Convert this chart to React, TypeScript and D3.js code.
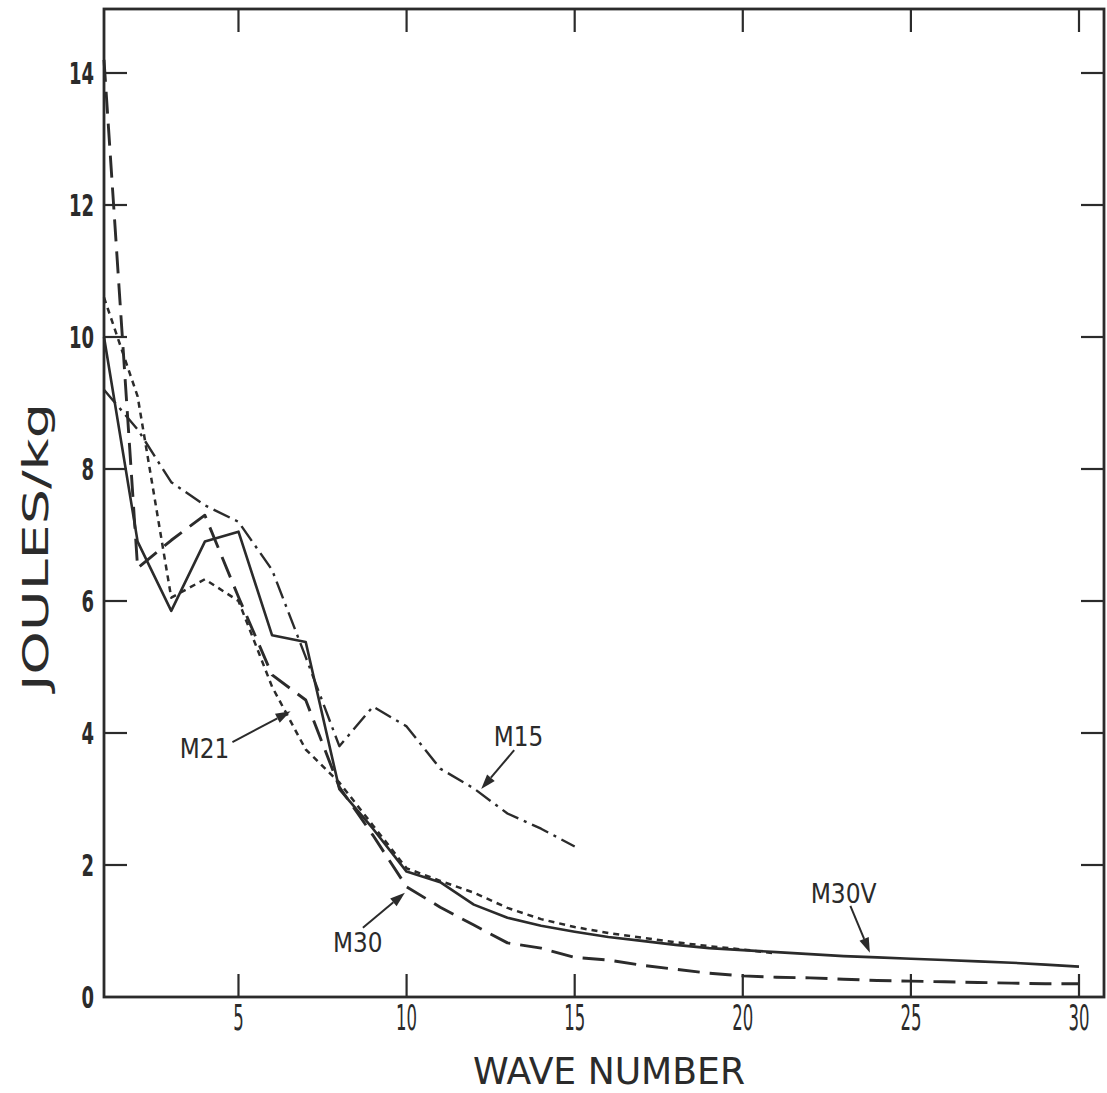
import React, { useEffect, useRef } from "react";
import * as d3 from "d3";

type Pt = [number, number];

// Wave number vs kinetic energy (J/kg)
const M30V: Pt[] = [[1,10.0],[2,6.9],[3,5.85],[4,6.9],[5,7.05],[6,5.48],[7,5.38],[8,3.15],[9,2.55],[10,1.9],[11,1.74],[12,1.4],[13,1.2],[14,1.08],[15,0.99],[16,0.91],[17,0.85],[18,0.79],[19,0.74],[20,0.71],[21,0.68],[22,0.65],[23,0.62],[24,0.6],[25,0.58],[26,0.56],[27,0.54],[28,0.52],[29,0.49],[30,0.46]];
const M30: Pt[] = [[1,14.2],[2,6.5],[3,6.92],[4,7.3],[5,6.06],[6,4.88],[7,4.5],[8,3.18],[9,2.45],[10,1.67],[11,1.36],[12,1.09],[13,0.82],[14,0.74],[15,0.6],[16,0.56],[17,0.48],[18,0.42],[19,0.36],[20,0.32],[21,0.3],[22,0.29],[23,0.27],[24,0.25],[25,0.24],[26,0.23],[27,0.22],[28,0.21],[29,0.2],[30,0.2]];
const M21: Pt[] = [[1,10.6],[2,9.1],[3,6.05],[4,6.33],[5,6.0],[6,4.7],[7,3.75],[8,3.25],[9,2.6],[10,1.95],[11,1.76],[12,1.58],[13,1.35],[14,1.18],[15,1.06],[16,0.97],[17,0.9],[18,0.83],[19,0.77],[20,0.72],[21,0.66]];
const M15: Pt[] = [[1,9.2],[2,8.6],[3,7.8],[4,7.45],[5,7.2],[6,6.47],[7,5.15],[8,3.8],[9,4.4],[10,4.1],[11,3.46],[12,3.16],[13,2.78],[14,2.55],[15,2.28]];

const xTicks = [5, 10, 15, 20, 25, 30];
const yTicks = [0, 2, 4, 6, 8, 10, 12, 14];

// label, text position (wave, value), arrow from, arrow to
const labels = ["M21", "M15", "M30", "M30V"];
const labelPos: Pt[] = [[3.99, 3.77], [13.33, 3.95], [8.55, 0.83], [23.0, 1.58]];
const arrowFrom: Pt[] = [[4.82, 3.86], [13.2, 3.74], [8.7, 1.05], [23.2, 1.38]];
const arrowTo: Pt[] = [[6.55, 4.33], [12.22, 3.15], [9.95, 1.58], [23.78, 0.67]];

const W = 1107, H = 1093;
const LEFT = 104, RIGHT = 1104, TOP = 9, BOTTOM = 997;
const INK = "#2b2b2b";
const FONT = "'DejaVu Sans Condensed', 'Liberation Sans Narrow', 'DejaVu Sans', sans-serif";

export default function App() {
  const ref = useRef<SVGSVGElement>(null);
  useEffect(() => {
    const svg = d3.select(ref.current);
    svg.selectAll("*").remove();
    const x = d3.scaleLinear().domain([1, 30]).range([LEFT, 1079]);
    const y = d3.scaleLinear().domain([0, 14]).range([BOTTOM, 73]);

    // frame
    svg.append("rect").attr("x", LEFT).attr("y", TOP).attr("width", RIGHT - LEFT).attr("height", BOTTOM - TOP)
      .attr("fill", "none").attr("stroke", INK).attr("stroke-width", 2.8);

    const tl = 23;
    // bottom & top ticks
    xTicks.forEach((t) => {
      svg.append("line").attr("x1", x(t)).attr("x2", x(t)).attr("y1", BOTTOM).attr("y2", BOTTOM - tl)
        .attr("stroke", INK).attr("stroke-width", 2.2);
      svg.append("line").attr("x1", x(t)).attr("x2", x(t)).attr("y1", TOP).attr("y2", TOP + tl)
        .attr("stroke", INK).attr("stroke-width", 2.2);
      svg.append("text").attr("x", x(t)).attr("y", 1030).attr("text-anchor", "middle")
        .attr("font-family", FONT).attr("font-size", 36).attr("fill", INK)
        .attr("textLength", String(t).length * 10.5).attr("lengthAdjust", "spacingAndGlyphs")
        .text(String(t));
    });
    // left & right ticks
    yTicks.forEach((t) => {
      if (t > 0) {
        svg.append("line").attr("x1", LEFT).attr("x2", LEFT + tl).attr("y1", y(t)).attr("y2", y(t))
          .attr("stroke", INK).attr("stroke-width", 2.2);
        svg.append("line").attr("x1", RIGHT).attr("x2", RIGHT - tl).attr("y1", y(t)).attr("y2", y(t))
          .attr("stroke", INK).attr("stroke-width", 2.2);
      }
      svg.append("text").attr("x", 94).attr("y", y(t) + 11).attr("text-anchor", "end")
        .attr("font-family", FONT).attr("font-size", 31).attr("font-weight", "bold").attr("fill", INK)
        .attr("textLength", String(t).length * 12.5).attr("lengthAdjust", "spacingAndGlyphs")
        .text(String(t));
    });

    // axis titles
    svg.append("text").attr("x", 609).attr("y", 1084).attr("text-anchor", "middle")
      .attr("font-family", FONT).attr("font-size", 37).attr("fill", INK)
      .attr("textLength", 272).attr("lengthAdjust", "spacingAndGlyphs").text("WAVE NUMBER");
    svg.append("text").attr("transform", "translate(48,547) rotate(-90)").attr("text-anchor", "middle")
      .attr("font-family", FONT).attr("font-size", 36).attr("fill", INK)
      .attr("textLength", 288).attr("lengthAdjust", "spacingAndGlyphs").text("JOULES/kg");

    const line = d3.line<Pt>().x((d) => x(d[0])).y((d) => y(d[1])).curve(d3.curveLinear);
    const series: { data: Pt[]; dash: string | null; w: number }[] = [
      { data: M15, dash: "18,6,3,6", w: 2.4 },
      { data: M21, dash: "6,5", w: 2.5 },
      { data: M30, dash: "22,10", w: 2.9 },
      { data: M30V, dash: null, w: 2.6 },
    ];
    series.forEach((s) => {
      const p = svg.append("path").attr("d", line(s.data)!).attr("fill", "none")
        .attr("stroke", INK).attr("stroke-width", s.w).attr("stroke-linejoin", "round");
      if (s.dash) p.attr("stroke-dasharray", s.dash);
    });

    // annotations
    labels.forEach((lab, i) => {
      const [tx, ty] = labelPos[i];
      svg.append("text").attr("x", x(tx)).attr("y", y(ty) + 10).attr("text-anchor", "middle")
        .attr("font-family", FONT).attr("font-size", 27).attr("fill", INK)
        .attr("textLength", lab.length * 16.5).attr("lengthAdjust", "spacingAndGlyphs").text(lab);
      const x1 = x(arrowFrom[i][0]), y1 = y(arrowFrom[i][1]);
      const x2 = x(arrowTo[i][0]), y2 = y(arrowTo[i][1]);
      const ang = Math.atan2(y2 - y1, x2 - x1);
      const L = 15, Wd = 5;
      const bx = x2 - L * Math.cos(ang), by = y2 - L * Math.sin(ang);
      svg.append("line").attr("x1", x1).attr("y1", y1).attr("x2", bx).attr("y2", by)
        .attr("stroke", INK).attr("stroke-width", 2);
      const pts = [
        [x2, y2],
        [bx + Wd * Math.sin(ang), by - Wd * Math.cos(ang)],
        [bx - Wd * Math.sin(ang), by + Wd * Math.cos(ang)],
      ];
      svg.append("polygon").attr("points", pts.map((p) => p.join(",")).join(" ")).attr("fill", INK);
    });
  }, []);
  return (
    <svg ref={ref} width={W} height={H} style={{ position: "absolute", left: 0, top: 0, background: "#fff" }} />
  );
}
